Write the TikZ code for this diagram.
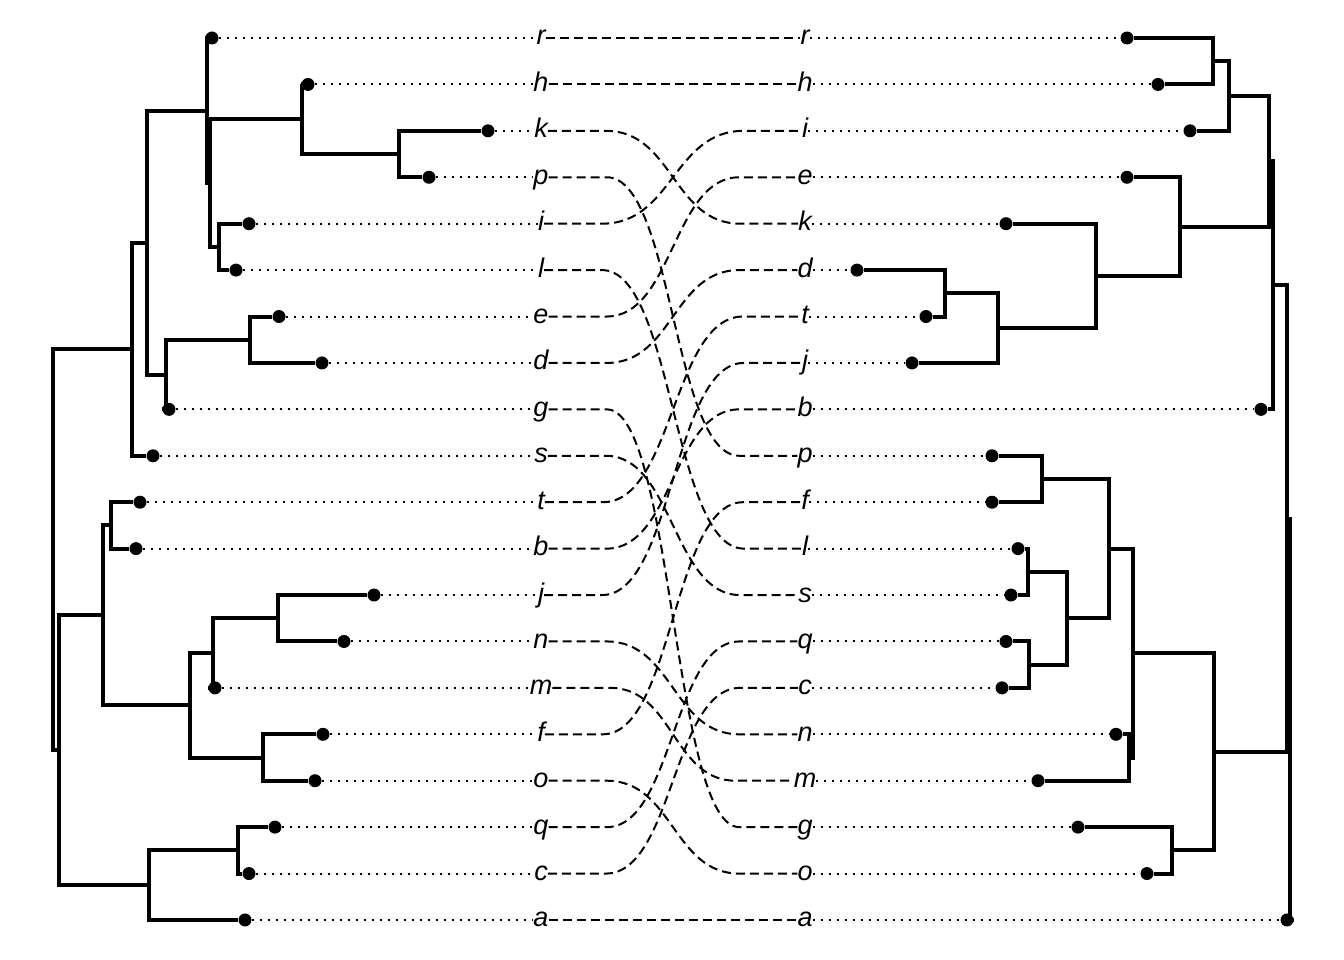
\documentclass[tikz,border=0pt]{standalone}
\usepackage{fontspec}
\setmainfont{Liberation Sans}
\usetikzlibrary{calc}
\begin{document}
\begin{tikzpicture}[x=1pt,y=-1pt,
  tree/.style={line width=4pt,line join=miter},
  dotnode/.style={circle,fill=black,inner sep=0pt,minimum size=13pt},
  lab/.style={inner sep=0pt,text height=14pt,text depth=0pt,font=\fontsize{27}{27}\selectfont\itshape},
  dotline/.style={line width=2pt,dash pattern=on 2pt off 6pt},
  dashline/.style={line width=2pt,dash pattern=on 9pt off 5pt}]
\useasboundingbox (0,0) rectangle (1344,960);
% left leaves
\foreach \n/\x/\r in {r/212/0,h/308/1,k/488/2,p/429/3,i/249/4,l/236/5,e/279/6,d/322/7,g/169/8,s/153/9,t/140/10,b/136/11,j/374/12,n/344/13,m/215/14,f/323/15,o/315/16,q/275/17,c/249/18,a/245/19}{
  \node[dotnode] (dl-\n) at (\x,{38+\r*46.42}) {};
  \node[lab] (L-\n) at (541,{38+\r*46.42}) {\n};
}
% right leaves
\foreach \n/\x/\r in {r/1127/0,h/1158/1,i/1190/2,e/1127/3,k/1006/4,d/857/5,t/926/6,j/912/7,b/1261/8,p/992/9,f/992/10,l/1018/11,s/1011/12,q/1006/13,c/1002/14,n/1116/15,m/1038/16,g/1078/17,o/1147/18,a/1287/19}{
  \node[dotnode] (dr-\n) at (\x,{38+\r*46.42}) {};
  \node[lab] (R-\n) at (805,{38+\r*46.42}) {\n};
}
% left internal nodes
\coordinate (Lkp) at (399,154.05);
\coordinate (Lhkp) at (302,119.24);
\coordinate (Lil) at (219,246.89);
\coordinate (LB) at (210,183.06);
\coordinate (LA) at (207,110.53);
\coordinate (Led) at (250,339.73);
\coordinate (Ledg) at (166,374.55);
\coordinate (L147) at (147,242.54);
\coordinate (L132) at (132,349.16);
\coordinate (Ltb) at (111,525.41);
\coordinate (Ljn) at (278,618.25);
\coordinate (Ljnm) at (213,653.07);
\coordinate (Lfo) at (263,757.51);
\coordinate (L190) at (190,705.29);
\coordinate (L103) at (103,615.35);
\coordinate (Lqc) at (238,850.35);
\coordinate (L149) at (149,885.17);
\coordinate (L59) at (59,750.26);
\coordinate (Lroot) at (53,549.71);
% right internal nodes
\coordinate (Rrh) at (1213,61.21);
\coordinate (Rrhi) at (1229,96.03);
\coordinate (Rdt) at (945,293.31);
\coordinate (Rdtj) at (998,328.13);
\coordinate (Rk) at (1096,275.91);
\coordinate (Re) at (1180,226.59);
\coordinate (R1269) at (1269,161.31);
\coordinate (R1273) at (1273,285.34);
\coordinate (Rpf) at (1042,478.99);
\coordinate (Rls) at (1028,571.83);
\coordinate (Rqc) at (1029,664.67);
\coordinate (R1067) at (1067,618.25);
\coordinate (R1109) at (1109,548.62);
\coordinate (Rnm) at (1129,757.51);
\coordinate (R1133) at (1133,653.07);
\coordinate (Rgo) at (1172,850.35);
\coordinate (R1214) at (1214,751.71);
\coordinate (R1287) at (1287,518.53);
\coordinate (Rroot) at (1290,719.26);
% tree edges
\foreach \p/\c in {Lkp/dl-k,Lkp/dl-p,Lhkp/dl-h,Lhkp/Lkp,Lil/dl-i,Lil/dl-l,LB/Lhkp,LB/Lil,LA/dl-r,LA/LB,
  Led/dl-e,Led/dl-d,Ledg/Led,Ledg/dl-g,L147/LA,L147/Ledg,L132/L147,L132/dl-s,
  Ltb/dl-t,Ltb/dl-b,Ljn/dl-j,Ljn/dl-n,Ljnm/Ljn,Ljnm/dl-m,Lfo/dl-f,Lfo/dl-o,L190/Ljnm,L190/Lfo,
  L103/Ltb,L103/L190,Lqc/dl-q,Lqc/dl-c,L149/Lqc,L149/dl-a,L59/L103,L59/L149,Lroot/L132,Lroot/L59,
  Rrh/dr-r,Rrh/dr-h,Rrhi/Rrh,Rrhi/dr-i,Rdt/dr-d,Rdt/dr-t,Rdtj/Rdt,Rdtj/dr-j,Rk/dr-k,Rk/Rdtj,
  Re/dr-e,Re/Rk,R1269/Rrhi,R1269/Re,R1273/R1269,R1273/dr-b,
  Rpf/dr-p,Rpf/dr-f,Rls/dr-l,Rls/dr-s,Rqc/dr-q,Rqc/dr-c,R1067/Rls,R1067/Rqc,R1109/Rpf,R1109/R1067,
  Rnm/dr-n,Rnm/dr-m,R1133/R1109,R1133/Rnm,Rgo/dr-g,Rgo/dr-o,R1214/R1133,R1214/Rgo,
  R1287/R1273,R1287/R1214,Rroot/R1287,Rroot/dr-a}{
  \draw[tree] (\p) |- (\c);
}
% dotted leaders
\foreach \n in {r,h,k,p,i,l,e,d,g,s,t,b,j,n,m,f,o,q,c,a}{
  \draw[dotline] (dl-\n) -- (L-\n.west);
  \draw[dotline] (R-\n.east) -- (dr-\n);
}
% connecting lines
\coordinate (mid) at (673,0);
\foreach \n in {r,h,a}{
  \draw[dashline] (L-\n.east) -- (R-\n.west);
}
\foreach \n in {k,p,i,l,e,d,g,s,t,b,j,n,m,f,o,q,c}{
  \draw[dashline] (L-\n.east) -- ($(L-\n.east)+(58,0)$) .. controls (mid |- L-\n.east) and (mid |- R-\n.west) .. ($(R-\n.west)+(-58,0)$) -- (R-\n.west);
}
\end{tikzpicture}
\end{document}
